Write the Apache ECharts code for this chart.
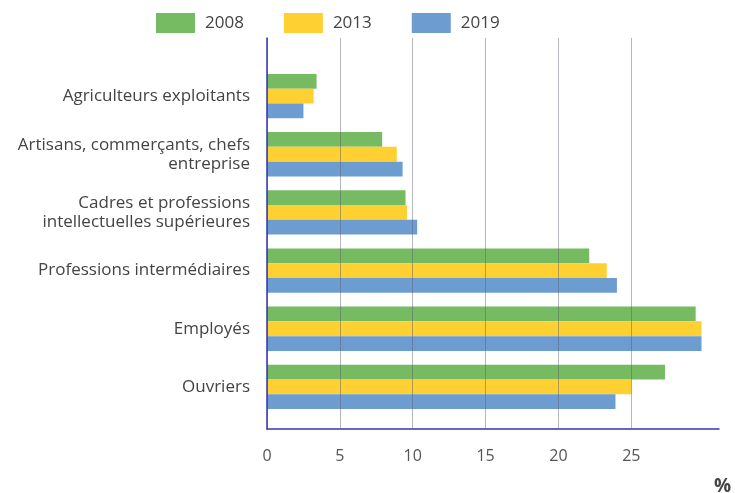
<!DOCTYPE html>
<html>
<head>
<meta charset="utf-8">
<script src="https://cdn.jsdelivr.net/npm/echarts@6/dist/echarts.min.js"></script>
<style>
  html, body { margin: 0; padding: 0; background: #fff; }
  #chart { width: 735px; height: 493px; }
</style>
</head>
<body>
<div id="chart"></div>
<script>
// catégories socioprofessionnelles (de haut en bas)
const categories = [
  'Agriculteurs exploitants',
  'Artisans, commerçants, chefs\nentreprise',
  'Cadres et professions\nintellectuelles supérieures',
  'Professions intermédiaires',
  'Employés',
  'Ouvriers'
];
const years = ['2008', '2013', '2019'];
const values2008 = [3.4, 7.9, 9.5, 22.1, 29.4, 27.3];
const values2013 = [3.2, 8.9, 9.6, 23.3, 29.8, 25.0];
const values2019 = [2.5, 9.3, 10.3, 24.0, 29.8, 23.9];
const xTicks = [0, 5, 10, 15, 20, 25];

const colors = ['#76bb62', '#fed031', '#6d9dd0'];
const font = '"Open Sans", sans-serif';

const chart = echarts.init(document.getElementById('chart'));

const seriesData = [values2008, values2013, values2019];

const option = {
  animation: false,
  backgroundColor: '#fff',
  color: colors,
  textStyle: { fontFamily: font },
  title: {
    text: '%',
    left: 709,
    top: 472,
    textStyle: { fontSize: 19, fontWeight: 'bold', color: '#444', fontFamily: font }
  },
  legend: {
    top: 8,
    left: 151,
    itemWidth: 39,
    itemHeight: 20,
    itemGap: 40,
    icon: 'rect',
    textStyle: { fontSize: 17, color: '#444', padding: [0, 0, 0, 5] },
    data: years
  },
  grid: [
    // cadre des axes (lignes bleues)
    { left: 267, right: 16, top: 38, bottom: 64 },
    // zone des barres
    { left: 267, right: 16, top: 67, bottom: 77 },
    // graduations 0..25 et lignes de grille
    { left: 267, width: 364.3, top: 38, bottom: 64 }
  ],
  xAxis: [
    {
      gridIndex: 0,
      type: 'value',
      min: 0,
      max: 31,
      axisLine: { show: true, lineStyle: { color: '#3535b0', width: 1.5 } },
      axisTick: { show: false },
      axisLabel: { show: false },
      splitLine: { show: false }
    },
    {
      gridIndex: 1,
      type: 'value',
      min: 0,
      max: 31,
      show: false
    },
    {
      gridIndex: 2,
      type: 'value',
      min: xTicks[0],
      max: xTicks[xTicks.length - 1],
      interval: 5,
      z: 3,
      axisLine: { show: false },
      axisTick: { show: false },
      axisLabel: { color: '#555', fontSize: 16, margin: 19 },
      splitLine: { show: true, lineStyle: { color: 'rgba(90,90,110,0.45)', width: 1 } }
    }
  ],
  yAxis: [
    {
      gridIndex: 0,
      type: 'value',
      min: 0,
      max: 1,
      z: 4,
      axisLine: { show: true, lineStyle: { color: '#3535b0', width: 1.5 } },
      axisTick: { show: false },
      axisLabel: { show: false },
      splitLine: { show: false }
    },
    {
      gridIndex: 1,
      type: 'category',
      inverse: true,
      data: categories,
      axisLine: { show: false },
      axisTick: { show: false },
      axisLabel: {
        color: '#444',
        fontSize: 17,
        lineHeight: 19,
        margin: 17,
        align: 'right'
      }
    },
    {
      gridIndex: 2,
      type: 'value',
      show: false
    }
  ],
  series: years.map((y, i) => ({
    name: y,
    type: 'bar',
    xAxisIndex: 1,
    yAxisIndex: 1,
    barWidth: 14.8,
    barGap: '0%',
    data: seriesData[i]
  }))
};

chart.setOption(option);
</script>
</body>
</html>
